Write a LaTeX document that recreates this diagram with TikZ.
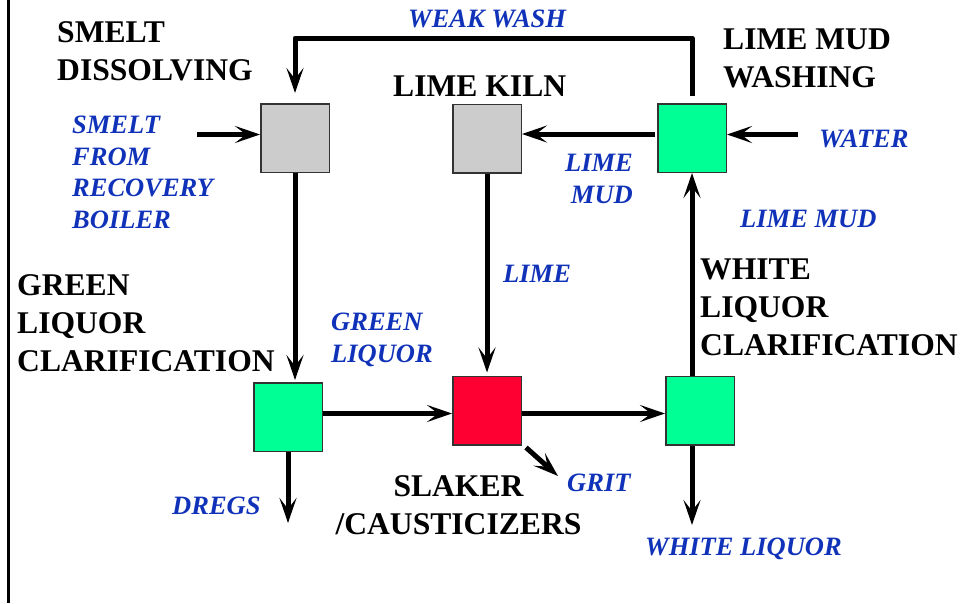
\documentclass[tikz,border=0pt]{standalone}
\usepackage{fontspec}
\setmainfont{Liberation Serif}
\usetikzlibrary{arrows.meta,calc}
\definecolor{lblue}{RGB}{16,50,185}
\definecolor{boxgray}{RGB}{204,204,204}
\definecolor{boxgreen}{RGB}{0,255,148}
\definecolor{boxred}{RGB}{255,0,51}
\begin{document}
\begin{tikzpicture}[x=1pt,y=-1pt,
  unit/.style={draw=black!80,line width=1.5pt,minimum size=68.5pt,inner sep=0pt},
  flow/.style={line width=5pt,-{Stealth[length=25pt,width=17pt,inset=11pt]},line join=round},
  title/.style={font=\fontsize{31.6}{38}\selectfont\bfseries,inner sep=0pt,anchor=base west,align=left},
  stream/.style={font=\fontsize{26.5}{31.5}\selectfont\bfseries\itshape,text=lblue,inner sep=0pt,anchor=base west,align=left}]
\useasboundingbox (0,0) rectangle (964,603);
\draw[line width=2.5pt] (8.5,0) -- (8.5,603);

% units
\node[unit,fill=boxgray] (smelt) at (295,138) {};
\node[unit,fill=boxgray] (kiln) at (487,138.5) {};
\node[unit,fill=boxgreen] (wash) at (692,138) {};
\node[unit,fill=boxgreen] (glc) at (288,417) {};
\node[unit,fill=boxred] (slaker) at (487,410.5) {};
\node[unit,fill=boxgreen] (wlc) at (700,410.5) {};

% titles (anchored at the baseline of the last line)
\node[title] (tsmelt) at (57,80) {SMELT\\DISSOLVING};
\node[title] (tkiln) at (393,96) {LIME KILN};
\node[title] (twash) at (723,87) {LIME MUD\\WASHING};
\node[title] (tglc) at (17,371) {GREEN\\LIQUOR\\CLARIFICATION};
\node[title] (twlc) at (700,355) {WHITE\\LIQUOR\\CLARIFICATION};
\node[title,anchor=base,align=center] (tslaker) at (458.5,534) {SLAKER\\/CAUSTICIZERS};

% stream labels
\node[stream] (lweak) at (408,27) {WEAK WASH};
\node[stream] (lsmelt) at (72,228) {SMELT\\FROM\\RECOVERY\\BOILER};
\node[stream,anchor=base east,align=right] (llm1) at (633,203) {LIME\\MUD};
\node[stream] (lwater) at (819,147) {WATER};
\node[stream] (llm2) at (740,227) {LIME MUD};
\node[stream] (llime) at (503,282) {LIME};
\node[stream] (lgreen) at (331,362) {GREEN\\LIQUOR};
\node[stream] (ldregs) at (172,514) {DREGS};
\node[stream] (lgrit) at (567,491) {GRIT};
\node[stream] (lwhite) at (645,555) {WHITE LIQUOR};

% connectors
\coordinate (wwy) at (0,38);
\draw[flow,shorten <=7pt,shorten >=10pt] (wash.north) -- (wash.north |- wwy) -- (smelt.north |- wwy) -- (smelt.north);
\coordinate (smeltsrc) at (197,134.5);
\draw[flow] (smeltsrc) -- (smeltsrc -| smelt.west);
\draw[flow,shorten >=2pt] (smelt.south) -- (smelt.south |- glc.north);
\draw[flow,shorten >=3pt] (kiln.south) -- (kiln.south |- slaker.north);
\coordinate (lmy) at (0,134);
\draw[flow,shorten <=2pt] (wash.west |- lmy) -- (kiln.east |- lmy);
\coordinate (watersrc) at (798,134.5);
\draw[flow] (watersrc) -- (watersrc -| wash.east);
\draw[flow] (wash.south |- wlc.north) -- (wash.south);
\coordinate (wlout) at (692,525);
\draw[flow] (wlout |- wlc.south) -- (wlout);
\coordinate (dregsout) at (288,523);
\draw[flow] (glc.south) -- (dregsout);
\coordinate (midy) at (0,413.5);
\draw[flow] (glc.east |- midy) -- (slaker.west |- midy);
\draw[flow] (slaker.east |- midy) -- (wlc.west |- midy);
\coordinate (gritout) at (558,476);
\draw[flow] ([xshift=4pt,yshift=-2pt]slaker.south east) -- (gritout);
\end{tikzpicture}
\end{document}
